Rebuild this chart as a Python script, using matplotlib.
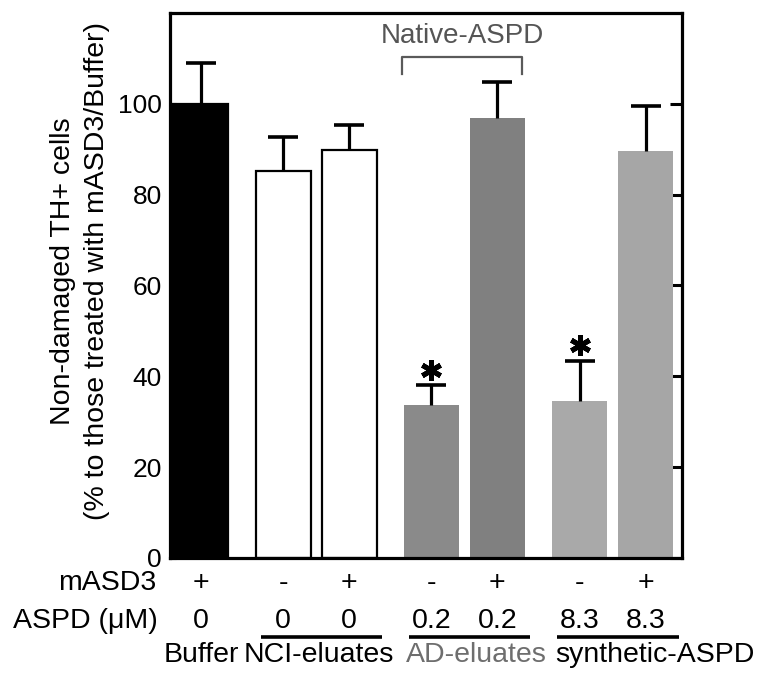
import numpy as np
import matplotlib
matplotlib.use("Agg")
import matplotlib.pyplot as plt

plt.rcParams['font.family'] = ['Liberation Sans', 'DejaVu Sans']

# --------- data ---------
values = [100.0, 85.2, 89.8, 33.6, 96.8, 34.5, 89.6]
errors = [9.0, 7.4, 5.6, 4.4, 7.9, 8.8, 10.0]
colors = ['#000000', '#ffffff', '#ffffff', '#8a8a8a', '#808080', '#a9a9a9', '#a6a6a6']
edges = ['#000000', '#000000', '#000000', 'none', 'none', 'none', 'none']
masd3 = ['+', '-', '+', '-', '+', '-', '+']
aspd = ['0', '0', '0', '0.2', '0.2', '8.3', '8.3']
groups = ['Buffer', 'NCI-eluates', 'AD-eluates', 'synthetic-ASPD']
group_colors = ['#000000', '#000000', '#6e6e6e', '#000000']
sig_bars = [3, 5]
yticks = [0, 20, 40, 60, 80, 100]

# bar centers: pairs 1.2 apart, groups 3.0 apart
pos = np.array([0.0, 1.5, 2.7, 4.2, 5.4, 6.9, 8.1])

fig = plt.figure(figsize=(7.74, 6.87), dpi=100)
ax = fig.add_axes([0.2196, 0.1878, 0.6615, 0.7933])

ax.bar(pos, values, width=1.0, color=colors, edgecolor=edges, linewidth=1.6, zorder=2)
eb = ax.errorbar(pos, values, yerr=[np.zeros(len(errors)), errors], fmt='none',
                 ecolor='black', elinewidth=2.3, capsize=10.5, capthick=2.6, zorder=3)
eb[1][0].set_visible(False)  # 只留上方 cap

# asterisks above significant bars
for i in sig_bars:
    ax.plot(pos[i], values[i] + errors[i] + 3.5, marker=(6, 2, 0), markersize=15,
            markeredgewidth=3.6, color='black', zorder=4)

ax.set_xlim(-0.56, 8.76)
ax.set_ylim(0, 120)
ax.set_xticks([])
ax.set_yticks(yticks)
ax.set_yticklabels([str(v) for v in yticks], fontsize=19)
ax.tick_params(axis='y', direction='in', length=4, width=2.2, right=True, pad=6)
for t in ax.yaxis.get_major_ticks():
    t.tick2line.set_markersize(9)
for sp in ax.spines.values():
    sp.set_linewidth(2.3)

ax.set_ylabel("Non-damaged TH+ cells\n(% to those treated with mASD3/Buffer)",
              fontsize=20.5, linespacing=1.4)
ax.yaxis.set_label_coords(-0.118, 0.527)

# Native-ASPD bracket
xb0, xb1 = 3.67, 5.85
ax.plot([xb0, xb0, xb1, xb1], [106.6, 110.3, 110.3, 106.6], color='#5a5a5a',
        lw=1.6, clip_on=False)
ax.text((xb0 + xb1) / 2, 115.0, "Native-ASPD", color='#555555', fontsize=20,
        ha='center', va='center')

# table below the axis
tr = ax.get_xaxis_transform()
row1, row2, row_line, row3 = -0.046, -0.116, -0.145, -0.178
ax.text(-0.81, row1, "mASD3", transform=tr, ha='right', va='center', fontsize=20.5)
ax.text(-0.78, row2, "ASPD (\u03bcM)", transform=tr, ha='right', va='center', fontsize=20.5)
for x, s1, s2 in zip(pos, masd3, aspd):
    ax.text(x, row1, s1, transform=tr, ha='center', va='center', fontsize=20.5)
    ax.text(x, row2, s2, transform=tr, ha='center', va='center', fontsize=20.5)

# underlines for the paired groups
for k in range(3):
    a, b = pos[1 + 2 * k], pos[2 + 2 * k]
    ax.plot([a - 0.41, b + 0.6], [row_line, row_line], transform=tr, color='black',
            lw=2.6, clip_on=False, solid_capstyle='butt')

group_left = [-0.67, 0.78, 3.73, 6.45]
for x, g, c in zip(group_left, groups, group_colors):
    ax.text(x, row3, g, transform=tr, ha='left', va='center', fontsize=20.5, color=c)

fig.savefig("out.png", dpi=100)
